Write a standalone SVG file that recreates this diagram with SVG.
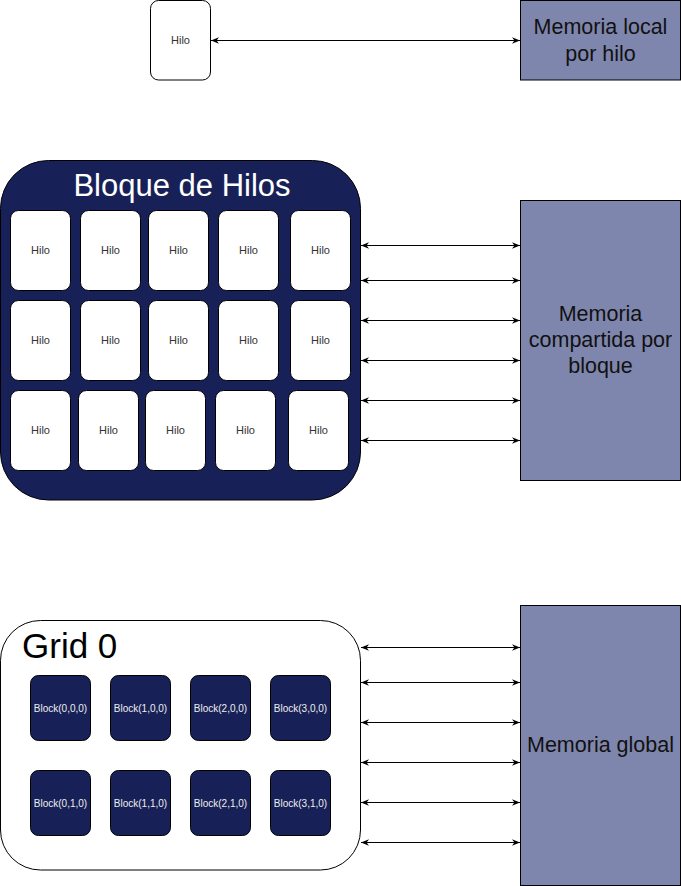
<svg xmlns="http://www.w3.org/2000/svg" width="681" height="886" viewBox="0 0 681 886">
<defs>
<marker id="arr" markerUnits="userSpaceOnUse" viewBox="0 0 10 8" markerWidth="8" markerHeight="7" refX="10" refY="4" orient="auto-start-reverse">
<path d="M0,0 L10,4 L0,8 L3,4 Z" fill="#000"/>
</marker>
</defs>
<style>
.hilo{fill:#fff;stroke:#000;stroke-width:1}
.ht{font-family:"Liberation Sans",Arial,sans-serif;font-size:11px;fill:#333;text-anchor:middle}
.mem{fill:#7f86ad;stroke:#000;stroke-width:1}
.mt{font-family:"Liberation Sans",Arial,sans-serif;font-size:21.5px;fill:#111;text-anchor:middle}
.blk{fill:#182157;stroke:#000;stroke-width:1}
.bt{font-family:"Liberation Sans",Arial,sans-serif;font-size:10px;fill:#eee;text-anchor:middle}
.con line{stroke:#000;stroke-width:1;marker-start:url(#arr);marker-end:url(#arr)}
</style>
<rect width="681" height="886" fill="#fff"/>

<g id="hilo-top"><rect class="hilo" x="150.5" y="0.5" width="60" height="79.5" rx="8"/><text class="ht" x="180.5" y="44">Hilo</text></g>
<g id="mem-local"><rect class="mem" x="520.5" y="0.5" width="160" height="79.5"/><text class="mt" x="600.5" y="34">Memoria local</text><text class="mt" x="600.5" y="61">por hilo</text></g>

<g id="bloque">
<rect x="0.5" y="160.5" width="360" height="339.5" rx="48" fill="#182157" stroke="#000"/>
<text x="182" y="196" font-family="'Liberation Sans',Arial,sans-serif" font-size="31" fill="#fff" text-anchor="middle">Bloque de Hilos</text>
</g>
<g id="h11"><rect class="hilo" x="10.5" y="210.5" width="60" height="80" rx="8"/><text class="ht" x="40.5" y="254">Hilo</text></g>
<g id="h12"><rect class="hilo" x="80.5" y="210.5" width="60" height="80" rx="8"/><text class="ht" x="110.5" y="254">Hilo</text></g>
<g id="h13"><rect class="hilo" x="148.5" y="210.5" width="60" height="80" rx="8"/><text class="ht" x="178.5" y="254">Hilo</text></g>
<g id="h14"><rect class="hilo" x="218.5" y="210.5" width="60" height="80" rx="8"/><text class="ht" x="248.5" y="254">Hilo</text></g>
<g id="h15"><rect class="hilo" x="290.5" y="210.5" width="60" height="80" rx="8"/><text class="ht" x="320.5" y="254">Hilo</text></g>
<g id="h21"><rect class="hilo" x="10.5" y="300.5" width="60" height="80" rx="8"/><text class="ht" x="40.5" y="344">Hilo</text></g>
<g id="h22"><rect class="hilo" x="80.5" y="300.5" width="60" height="80" rx="8"/><text class="ht" x="110.5" y="344">Hilo</text></g>
<g id="h23"><rect class="hilo" x="148.5" y="300.5" width="60" height="80" rx="8"/><text class="ht" x="178.5" y="344">Hilo</text></g>
<g id="h24"><rect class="hilo" x="218.5" y="300.5" width="60" height="80" rx="8"/><text class="ht" x="248.5" y="344">Hilo</text></g>
<g id="h25"><rect class="hilo" x="290.5" y="300.5" width="60" height="80" rx="8"/><text class="ht" x="320.5" y="344">Hilo</text></g>
<g id="h31"><rect class="hilo" x="10.5" y="390.5" width="60" height="80" rx="8"/><text class="ht" x="40.5" y="434">Hilo</text></g>
<g id="h32"><rect class="hilo" x="78.5" y="390.5" width="60" height="80" rx="8"/><text class="ht" x="108.5" y="434">Hilo</text></g>
<g id="h33"><rect class="hilo" x="145.5" y="390.5" width="60" height="80" rx="8"/><text class="ht" x="175.5" y="434">Hilo</text></g>
<g id="h34"><rect class="hilo" x="215.5" y="390.5" width="60" height="80" rx="8"/><text class="ht" x="245.5" y="434">Hilo</text></g>
<g id="h35"><rect class="hilo" x="288.5" y="390.5" width="60" height="80" rx="8"/><text class="ht" x="318.5" y="434">Hilo</text></g>

<g id="mem-compartida"><rect class="mem" x="520.5" y="200.5" width="160" height="280"/><text class="mt" x="600.5" y="321">Memoria</text><text class="mt" x="600.5" y="347">compartida por</text><text class="mt" x="600.5" y="373">bloque</text></g>

<g id="grid">
<rect x="0.5" y="620.5" width="360" height="249.5" rx="40" fill="#fff" stroke="#000"/>
<text x="22" y="658" font-family="'Liberation Sans',Arial,sans-serif" font-size="35" fill="#000">Grid 0</text>
</g>
<g id="b000"><rect class="blk" x="30.5" y="675.5" width="60" height="65" rx="8"/><text class="bt" x="60.5" y="711.5">Block(0,0,0)</text></g>
<g id="b100"><rect class="blk" x="110.5" y="675.5" width="60" height="65" rx="8"/><text class="bt" x="140.5" y="711.5">Block(1,0,0)</text></g>
<g id="b200"><rect class="blk" x="190.5" y="675.5" width="60" height="65" rx="8"/><text class="bt" x="220.5" y="711.5">Block(2,0,0)</text></g>
<g id="b300"><rect class="blk" x="270.5" y="675.5" width="60" height="65" rx="8"/><text class="bt" x="300.5" y="711.5">Block(3,0,0)</text></g>
<g id="b010"><rect class="blk" x="30.5" y="770.5" width="60" height="65" rx="8"/><text class="bt" x="60.5" y="806.5">Block(0,1,0)</text></g>
<g id="b110"><rect class="blk" x="110.5" y="770.5" width="60" height="65" rx="8"/><text class="bt" x="140.5" y="806.5">Block(1,1,0)</text></g>
<g id="b210"><rect class="blk" x="190.5" y="770.5" width="60" height="65" rx="8"/><text class="bt" x="220.5" y="806.5">Block(2,1,0)</text></g>
<g id="b310"><rect class="blk" x="270.5" y="770.5" width="60" height="65" rx="8"/><text class="bt" x="300.5" y="806.5">Block(3,1,0)</text></g>

<g id="mem-global"><rect class="mem" x="520.5" y="605.5" width="160" height="280"/><text class="mt" x="600.5" y="752">Memoria global</text></g>

<g id="connectors" class="con">
<line x1="211" y1="40.5" x2="520" y2="40.5"/>
<line x1="361" y1="245.5" x2="520" y2="245.5"/>
<line x1="361" y1="280.5" x2="520" y2="280.5"/>
<line x1="361" y1="320.5" x2="520" y2="320.5"/>
<line x1="361" y1="360.5" x2="520" y2="360.5"/>
<line x1="361" y1="400.5" x2="520" y2="400.5"/>
<line x1="361" y1="440.5" x2="520" y2="440.5"/>
<line x1="361" y1="647.5" x2="520" y2="647.5"/>
<line x1="361" y1="682.5" x2="520" y2="682.5"/>
<line x1="361" y1="722.5" x2="520" y2="722.5"/>
<line x1="361" y1="762.5" x2="520" y2="762.5"/>
<line x1="361" y1="802.5" x2="520" y2="802.5"/>
<line x1="361" y1="842.5" x2="520" y2="842.5"/>
</g>
</svg>
